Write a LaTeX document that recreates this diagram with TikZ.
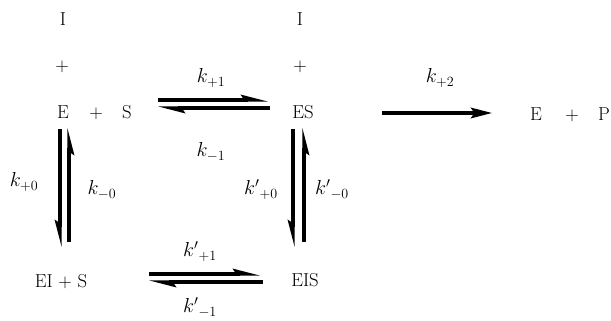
\documentclass[tikz,border=0pt]{standalone}
\usepackage{amsmath}
\usepackage{tikz}
\usetikzlibrary{arrows.meta}

\begin{document}
\begin{tikzpicture}[x=0.03cm, y=-0.03cm,
  chem/.style={font=\fontsize{16}{19}\selectfont, anchor=base, inner sep=1pt},
  rate/.style={font=\fontsize{17}{20}\selectfont, anchor=base, inner sep=1pt},
  harpL/.style={line width=2.6pt, -{Stealth[left, length=18pt, width=9pt, inset=3pt]}},
  harpR/.style={line width=2.6pt, -{Stealth[right, length=18pt, width=9pt, inset=3pt]}},
  reacarrow/.style={line width=2.6pt, -{Stealth[length=18pt, width=9pt, inset=3pt]}}]

  \useasboundingbox (0,0) rectangle (611,321);

  % --- free enzyme column ---
  \node[chem] (I1) at (63,26) {I};
  \node[chem] (p1) at (62,72) {+};
  \node[chem] (E1) at (63,119) {E};
  \node[chem] (p2) at (96,119) {+};
  \node[chem] (S1) at (127,119) {S};

  % --- complex column ---
  \node[chem] (I2) at (300,26) {I};
  \node[chem] (p3) at (300,72) {+};
  \node[chem] (ES) at (303,119) {ES};

  % --- products ---
  \node[chem] (E2) at (536,121) {E};
  \node[chem] (p4) at (572,121) {+};
  \node[chem] (P1) at (604,121) {P};

  % --- inhibitor-bound species ---
  \node[chem] (EI) at (61,288) {EI + S};
  \node[chem] (EIS) at (305,287) {EIS};

  % --- substrate binding ---
  \draw[harpL] ([shift={(31,-19)}]S1.base) -- ([shift={(-35,-19)}]ES.base);
  \draw[harpL] ([shift={(-33,-11)}]ES.base) -- ([shift={(31,-11)}]S1.base);
  \node[rate] (k1f) at (211,83) {$k_{+1}$};
  \node[rate] (k1r) at (211,157) {$k_{-1}$};

  % --- catalytic step ---
  \draw[reacarrow] ([shift={(79,-6)}]ES.base) -- ([shift={(-44,-8)}]E2.base);
  \node[rate] (k2) at (440,83) {$k_{+2}$};

  % --- inhibitor binding to E ---
  \draw[harpR] ([shift={(-3,10)}]E1.base) -- ([shift={(-1,-41)}]EI.base);
  \draw[harpR] ([shift={(8,-46)}]EI.base) -- ([shift={(6,9)}]E1.base);
  \node[rate] (k0f) at (24,187) {$k_{+0}$};
  \node[rate] (k0r) at (102,195) {$k_{-0}$};

  % --- inhibitor binding to ES ---
  \draw[harpR] ([shift={(-10,10)}]ES.base) -- ([shift={(-12,-40)}]EIS.base);
  \draw[harpR] ([shift={(-1,-45)}]EIS.base) -- ([shift={(1,9)}]ES.base);
  \node[rate] (kp0f) at (261,195) {$k{'}_{+0}$};
  \node[rate] (kp0r) at (332,195) {$k{'}_{-0}$};

  % --- substrate binding to EI ---
  \draw[harpL] ([shift={(88,-14)}]EI.base) -- ([shift={(-45,-13)}]EIS.base);
  \draw[harpL] ([shift={(-42,-5)}]EIS.base) -- ([shift={(88,-6)}]EI.base);
  \node[rate] (kp1f) at (200,257) {$k{'}_{+1}$};
  \node[rate] (kp1r) at (200,313) {$k{'}_{-1}$};

\end{tikzpicture}
\end{document}
